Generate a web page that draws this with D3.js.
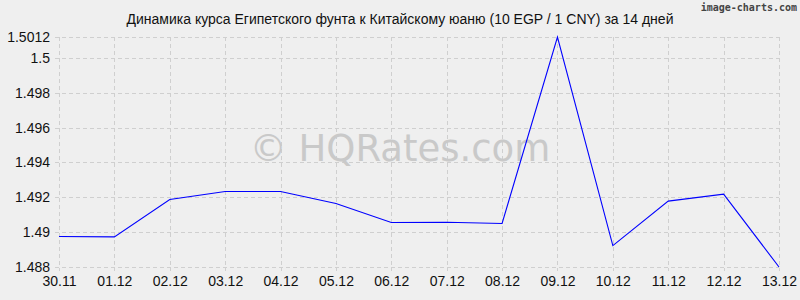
<!DOCTYPE html>
<html>
<head>
<meta charset="utf-8">
<script src="https://cdn.jsdelivr.net/npm/d3@7"></script>
<style>
  body { margin: 0; background: #efefef; }
  svg { display: block; font-family: "Liberation Sans", Arial, sans-serif; }
</style>
</head>
<body>
<div id="chart"></div>
<script>
"use strict";

// dates along the x axis
const dates = ["30.11", "01.12", "02.12", "03.12", "04.12", "05.12", "06.12",
               "07.12", "08.12", "09.12", "10.12", "11.12", "12.12", "13.12"];

// rate values, 10 EGP / 1 CNY
const rates = [1.48975, 1.48973, 1.49187, 1.49233, 1.49233, 1.49164, 1.49055,
               1.49057, 1.4905, 1.5012, 1.48923, 1.49178, 1.49218, 1.488];

// y tick values
const yTicks = [1.488, 1.49, 1.492, 1.494, 1.496, 1.498, 1.5, 1.5012];

const titleText = "Динамика курса Египетского фунта к Китайскому юаню (10 EGP / 1 CNY) за 14 дней";

const width = 800, height = 300;
const margin = { top: 37, right: 21, bottom: 33, left: 59 };

const svg = d3.select("#chart").append("svg")
    .attr("width", width)
    .attr("height", height);

svg.append("rect")
    .attr("width", width).attr("height", height)
    .attr("fill", "#efefef");

// scales
const x = d3.scalePoint()
    .domain(dates)
    .range([margin.left, width - margin.right]);

const y = d3.scaleLinear()
    .domain([1.488, 1.5012])
    .range([height - margin.bottom, margin.top]);

// grid lines
const grid = svg.append("g")
    .attr("stroke", "#cfcfcf")
    .attr("stroke-dasharray", "4,3")
    .attr("shape-rendering", "crispEdges");

grid.selectAll("line.v")
    .data(dates)
    .enter().append("line")
    .attr("class", "v")
    .attr("x1", d => Math.round(x(d)) + 0.5)
    .attr("x2", d => Math.round(x(d)) + 0.5)
    .attr("y1", y(1.5012))
    .attr("y2", y(1.488) + 4);

grid.selectAll("line.h")
    .data(yTicks)
    .enter().append("line")
    .attr("class", "h")
    .attr("x1", margin.left - 4)
    .attr("x2", width - margin.right)
    .attr("y1", d => Math.round(y(d)) + 0.5)
    .attr("y2", d => Math.round(y(d)) + 0.5);

// watermark
svg.append("text")
    .attr("x", 400)
    .attr("y", 161)
    .attr("text-anchor", "middle")
    .attr("font-family", "'DejaVu Sans', Verdana, sans-serif")
    .attr("font-size", 37)
    .attr("fill", "#c9c9c9")
    .text("© HQRates.com");

// y axis labels
const yAxis = svg.append("g")
    .attr("transform", "translate(" + (margin.left - 6) + ",0)")
    .call(d3.axisLeft(y).tickValues(yTicks).tickSize(0).tickPadding(3)
        .tickFormat(d => String(+d.toFixed(4))));
yAxis.select(".domain").remove();
yAxis.selectAll("text")
    .attr("font-family", "'Liberation Sans', Arial, sans-serif")
    .attr("font-size", 14)
    .attr("fill", "#111");

// x axis labels
const xAxis = svg.append("g")
    .attr("transform", "translate(0," + (height - margin.bottom + 5) + ")")
    .call(d3.axisBottom(x).tickSize(0).tickPadding(4));
xAxis.select(".domain").remove();
xAxis.selectAll("text")
    .attr("font-family", "'Liberation Sans', Arial, sans-serif")
    .attr("font-size", 14)
    .attr("fill", "#111");

// the rate line
const line = d3.line()
    .x((d, i) => x(dates[i]))
    .y(d => y(d));

svg.append("path")
    .datum(rates)
    .attr("fill", "none")
    .attr("stroke", "#0000ff")
    .attr("stroke-width", 1.1)
    .attr("d", line);

// title
svg.append("text")
    .attr("x", 400)
    .attr("y", 24)
    .attr("text-anchor", "middle")
    .attr("font-size", 14)
    .attr("fill", "#111")
    .text(titleText);

// credit
svg.append("text")
    .attr("x", 797)
    .attr("y", 11)
    .attr("text-anchor", "end")
    .attr("font-family", "'DejaVu Sans Mono', monospace")
    .attr("font-weight", "bold")
    .attr("font-size", 10)
    .attr("fill", "#444")
    .text("image-charts.com");
</script>
</body>
</html>
